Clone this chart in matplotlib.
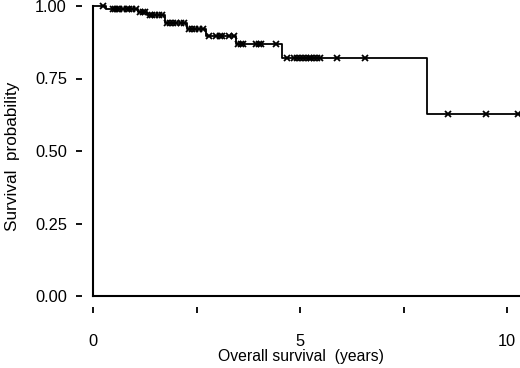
import numpy as np
import matplotlib
matplotlib.use("Agg")
import matplotlib.pyplot as plt

plt.rcParams['font.family'] = ['Liberation Sans', 'DejaVu Sans']

# Kaplan-Meier step data (event times and survival after each step)
step_times = [0.0, 0.31, 1.09, 1.29, 1.73, 2.26, 2.72, 3.45, 4.55, 8.07]
step_surv = [1.0, 0.989, 0.979, 0.968, 0.943, 0.920, 0.897, 0.868, 0.820, 0.627]
end_time = 10.31

# censoring times
censor_times = [0.24, 0.48, 0.53, 0.58, 0.63, 0.72, 0.82, 0.87, 0.93, 1.03,
                1.13, 1.19, 1.25,
                1.36, 1.43, 1.50, 1.58, 1.65,
                1.78, 1.85, 1.93, 2.01, 2.12, 2.20,
                2.31, 2.38, 2.46, 2.56, 2.66,
                2.79, 2.96, 3.05, 3.12, 3.27, 3.40,
                3.50, 3.56, 3.62, 3.92, 4.00, 4.06, 4.42,
                4.67, 4.84, 4.92, 5.00, 5.07, 5.14, 5.20, 5.27, 5.33, 5.40, 5.47,
                5.88, 6.56,
                8.56, 9.49, 10.26]

xticks = [0, 2.5, 5, 7.5, 10]
xticklabels = ['0', '', '5', '', '10']
yticks = [0.0, 0.25, 0.5, 0.75, 1.0]
yticklabels = ['0.00', '0.25', '0.50', '0.75', '1.00']

fig = plt.figure(figsize=(5.2, 3.68), dpi=100)
ax = fig.add_axes([93.3/520, 72/368, 1 - 93.3/520, (296-6)/368])

t = np.array(step_times + [end_time])
s = np.array(step_surv + [step_surv[-1]])
ax.step(t, s, where='post', color='black', lw=1.3, clip_on=False)

idx = np.searchsorted(np.array(step_times), np.array(censor_times), side='right') - 1
cs = np.array(step_surv)[idx]
ax.plot(censor_times, cs, linestyle='none', marker='x', color='black', ms=4, mew=1.3,
        clip_on=False)

# axis lines at data zero
ax.axhline(0, color='black', lw=1.5, clip_on=False)
ax.axvline(0, color='black', lw=1.5, clip_on=False)

ax.set_xlim(0, end_time)
ax.set_ylim(0, 1.0)
for sp in ['top', 'right']:
    ax.spines[sp].set_visible(False)
for sp in ['left', 'bottom']:
    ax.spines[sp].set_position(('outward', 8))
    ax.spines[sp].set_color('none')

ax.set_xticks(xticks)
ax.set_xticklabels(xticklabels)
ax.set_yticks(yticks)
ax.set_yticklabels(yticklabels)
ax.tick_params(axis='x', length=4, width=1.3, pad=15, labelsize=11.8)
ax.tick_params(axis='y', length=4, width=1.3, pad=7, labelsize=11.8)

ax.set_xlabel('Overall survival  (years)', fontsize=11.3)
ax.set_ylabel('Survival  probability', fontsize=12.3)
ax.xaxis.set_label_coords(0.487, -61/290, transform=ax.transAxes)
ax.xaxis.label.set_va('center')
ax.yaxis.set_label_coords(-(93.3-12.7)/426.7, 0.483, transform=ax.transAxes)
ax.yaxis.label.set_va('center')

fig.savefig('out.png', dpi=100)
